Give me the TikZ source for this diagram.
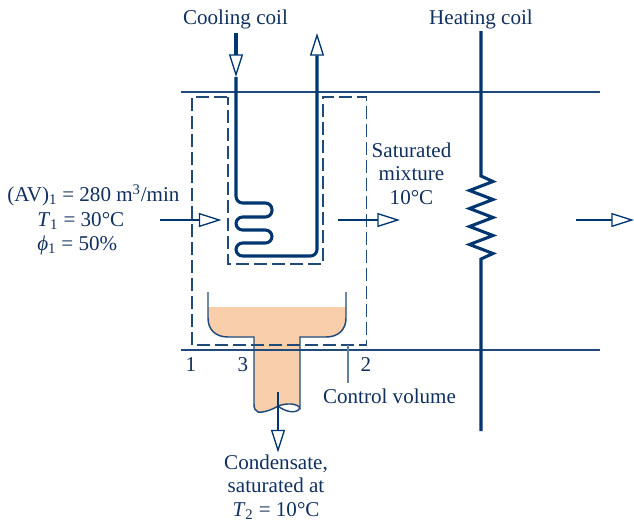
\documentclass[tikz,border=0pt]{standalone}
\usepackage{fontspec}
\setmainfont{Liberation Serif}
\usetikzlibrary{arrows.meta,positioning,calc}
\definecolor{coilblue}{HTML}{003670}
\definecolor{ductblue}{HTML}{1F4A7A}
\definecolor{labelblue}{HTML}{10305F}
\definecolor{waterfill}{HTML}{F8CEAB}

\begin{document}
\begin{tikzpicture}[
  x=0.75pt, y=-0.75pt,
  label/.style={font=\fontsize{15.8}{17.6}\selectfont, text=labelblue, align=center, inner sep=0pt},
  duct/.style={ductblue, line width=0.9pt},
  pan/.style={ductblue, line width=1.1pt},
  coil/.style={coilblue, line width=2.3pt},
  flow/.style={coilblue, line width=1.4pt, -{Triangle[open,length=17pt,width=10.5pt,line width=1pt]}},
  coilflow/.style={coil, -{Triangle[open,length=17pt,width=10.5pt,line width=1pt]}},
  boundary/.style={ductblue, line width=1pt, dash pattern=on 9.5pt off 4pt},
]
  \useasboundingbox (0,0) rectangle (634,525);

  %% Condensate in the pan and the drain
  \fill[waterfill] (208,307) -- (346,307) -- (346,318) .. controls (346,330) and (338,337) .. (326,337)
    -- (300,337) -- (300,408) .. controls (297,403) and (286,403) .. (278,406)
    .. controls (272,410) and (262,413) .. (258,412) .. controls (255,411) and (254,408) .. (254,404)
    -- (254,337) -- (228,337) .. controls (216,337) and (208,330) .. (208,318) -- cycle;
  \draw[pan] (208,292) -- (208,318) .. controls (208,330) and (216,337) .. (228,337) -- (254,337) -- (254,404)
    .. controls (254,408) and (255,411) .. (258,412) .. controls (262,413) and (272,410) .. (278,406)
    .. controls (286,403) and (297,403) .. (300,408) -- (300,337) -- (326,337)
    .. controls (338,337) and (346,330) .. (346,318) -- (346,292);
  \draw[pan] (278,406) .. controls (284,411) and (296,415) .. (300,408);

  %% Duct walls
  \coordinate (topL) at (181,92);
  \coordinate (topR) at (600,92);
  \coordinate (botL) at (181,350);
  \coordinate (botR) at (600,350);
  \draw[duct] (topL) -- (topR);
  \draw[duct] (botL) -- (botR);

  %% Control volume
  \draw[boundary] (227,97) -- (192,97) -- (192,345) -- (366.5,345) -- (366.5,97) -- (323,97)
    -- (323,264) -- (228,264) -- (228,97);

  %% Cooling coil
  \coordinate (coolIn) at (236,33);
  \coordinate (coolTip) at (236,77);
  \coordinate (coolOut) at (317,33);
  \draw[coilflow] (coolIn) -- (coolTip);
  \draw[coilflow, rounded corners=5pt] (coolTip) -- (236,203) -- (272,203) -- (272,217) -- (236,217)
    -- (236,230) -- (272,230) -- (272,243) -- (236,243) -- (236,256) -- (317,256) -- (coolOut);

  %% Heating coil
  \coordinate (heatTop) at (481,31);
  \coordinate (heatBot) at (481,431);
  \draw[coil, miter limit=4] (heatTop) -- (481,176) -- (493,181.5) -- (469.5,190.5) -- (493,199.5)
    -- (469.5,208.5) -- (493,217.5) -- (469.5,226.5) -- (493,235.5) -- (469.5,244.5) -- (493,253.5)
    -- (481,259) -- (heatBot);

  %% Air stream and condensate arrows
  \coordinate (airInA) at (160,220);
  \coordinate (airInB) at (221.5,220);
  \coordinate (airMidA) at (338,220);
  \coordinate (airMidB) at (400,220);
  \coordinate (airOutA) at (576,220);
  \coordinate (airOutB) at (634,220);
  \coordinate (drainA) at (278,392);
  \coordinate (drainB) at (278,452.5);
  \draw[flow] (airInA) -- (airInB);
  \draw[flow] (airMidA) -- (airMidB);
  \draw[flow] (airOutA) -- (airOutB);
  \draw[flow, line width=1.7pt] (drainA) -- (drainB);

  %% Texts
  \node[label] (coolLabel) at (235.5,19) {Cooling coil};
  \node[label] (heatLabel) at (481,19) {Heating coil};
  \node[label] (mixLabel) at (411.5,173.5) {Saturated\\mixture\\10°C};
  \node[label, anchor=base west] (flowLabel) at (7,201) {(AV)\textsubscript{1} = 280 m\textsuperscript{3}/min};
  \node[label, anchor=base west] (tempLabel) at (37,226) {\textit{T}\textsubscript{1} = 30°C};
  \node[label, anchor=base west] (humLabel) at (37,250) {\textit{ϕ}\textsubscript{1} = 50\%};
  \node[label] (secA) at (191,365) {1};
  \node[label] (secC) at (243,365) {3};
  \node[label] (secB) at (366,365) {2};
  \node[label] (cvLabel) at (389.5,396) {Control volume};
  \node[label] (condLabel) at (276,487) {Condensate,\\saturated at\\\textit{T}\textsubscript{2} = 10°C};

  %% Leader to the control volume
  \coordinate (cvEdge) at (348,345);
  \draw[ductblue!70, line width=0.9pt] (cvEdge) -- (cvEdge |- 0,383);
\end{tikzpicture}
\end{document}
